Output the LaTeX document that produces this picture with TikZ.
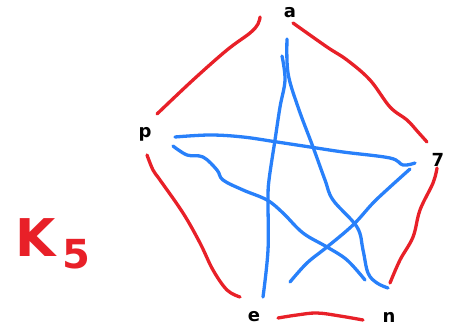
\documentclass[tikz,border=0pt]{standalone}
\usepackage{fontspec}
\setmainfont{DejaVu Sans}
\definecolor{penred}{RGB}{232,32,40}
\definecolor{penblue}{RGB}{40,128,250}
\tikzset{
  rededge/.style={draw=penred,line width=3.3pt,line cap=round,line join=round},
  blueedge/.style={draw=penblue,line width=3.3pt,line cap=round,line join=round},
  vlabel/.style={inner sep=0pt,font=\bfseries\fontsize{18}{18}\selectfont,text=black},
}
\begin{document}
\begin{tikzpicture}[x=1pt,y=-1pt]
\useasboundingbox (0,0) rectangle (452,331);
% vertex labels
\node[vlabel] (va) at (290,13) {a};
\node[vlabel] (vb) at (438,160) {7};
\node[vlabel] (vc) at (389,317) {n};
\node[vlabel] (vd) at (254,317) {e};
\node[vlabel] (ve) at (145,134) {p};
% K5 label
\node[inner sep=0pt,text=penred,font=\bfseries\fontsize{52}{52}\selectfont] (kk) at (36,238) {K};
\node[inner sep=0pt,text=penred,font=\bfseries\fontsize{40}{40}\selectfont] (kf) at (76,254) {5};
% outer red pentagon
\draw[rededge] plot[smooth,tension=0.6] coordinates {(157,114) (193,80) (227,50) (250,33) (258,24) (260,17)};
\draw[rededge] plot[smooth,tension=0.6] coordinates {(293,23) (327,47) (347,60) (370,80) (390,107) (407,120) (418,132) (427,142)};
\draw[rededge] plot[smooth,tension=0.6] coordinates {(437,168) (433,183) (420,210) (413,237) (400,260) (390,283)};
\draw[rededge] plot[smooth,tension=0.6] coordinates {(278,318) (297,315) (317,313) (340,316) (363,320)};
\draw[rededge] plot[smooth,tension=0.6] coordinates {(147,155) (153,170) (160,180) (183,213) (200,243) (213,270) (227,290) (240,297)};
% blue star
\draw[blueedge] plot[smooth,tension=0.6] coordinates {(287,39) (288,73) (298,107) (313,147) (325,180) (333,200) (357,227) (363,250) (368,273) (377,283) (388,288)};
\draw[blueedge] plot[smooth,tension=0.6] coordinates {(282,56) (285,80) (280,107) (275,140) (269,180) (268,200) (268,250) (263,297)};
\draw[blueedge] plot[smooth,tension=0.6] coordinates {(175,137) (210,135) (243,137) (277,142) (310,147) (343,152) (390,158) (403,165) (415,163)};
\draw[blueedge] plot[smooth,tension=0.6] coordinates {(173,146) (187,155) (203,157) (217,170) (223,180) (243,190) (267,200) (283,213) (303,233) (327,247) (347,260) (365,280)};
\draw[blueedge] plot[smooth,tension=0.6] coordinates {(410,169) (390,187) (373,203) (353,225) (327,247) (307,263) (290,282)};
\end{tikzpicture}
\end{document}
